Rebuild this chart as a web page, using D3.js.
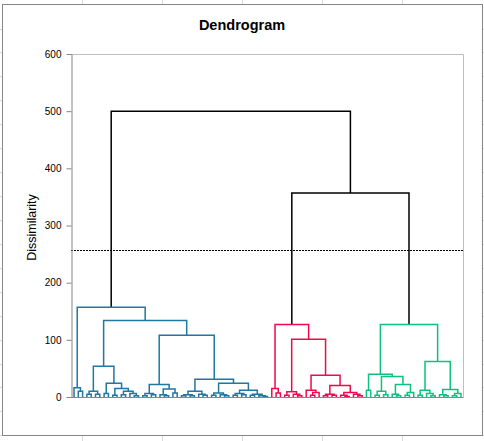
<!DOCTYPE html>
<html>
<head>
<meta charset="utf-8">
<script src="https://cdn.jsdelivr.net/npm/d3@7"></script>
<style>
  html, body { margin: 0; padding: 0; background: #ffffff; }
  svg { display: block; }
</style>
</head>
<body>
<svg id="chart" width="484" height="441"></svg>
<script>
// ---------------- DATA ----------------
// Each internal node: [dissimilarity, leftChild, rightChild]; a leaf is 0.
const title = "Dendrogram";
const yAxisTitle = "Dissimilarity";
const yTicks = [0, 100, 200, 300, 400, 500, 600];
const truncationLevel = 257;
const rootHeights = [500, 357];   // root node, then node joining clusters 2 and 3

const cluster1Tree = [157,
  [16, 0, [10, 0, 0]],
  [134,
    [54,
      [10, [5, 0, 0], [5, 0, 0]],
      [24,
        [6, 0, 0],
        [15, [3, 0, 0], [10, [4, 0, 0], [6, 0, [2, 0, 0]]]]
      ]
    ],
    [108,
      [22,
        [6, [2, 0, 0], [4, 0, 0]],
        [14, [4, 0, [2, 0, 0]], [7, 0, 0]]
      ],
      [31,
        [10, [4, [2, 0, 0], [2, 0, 0]], [5, 0, [3, 0, 0]]],
        [24,
          [7, [3, 0, 0], [4, 0, [2, 0, 0]]],
          [12, [6, [3, 0, 0], [4, 0, 0]], [5, [3, 0, 0], [2, 0, [1, 0, 0]]]]
        ]
      ]
    ]
  ]
];

const cluster2Tree = [127,
  [15, 0, [7, 0, 0]],
  [101,
    [9, [3, 0, 0], [5, 0, [2, 0, 0]]],
    [38,
      [12, 0, [8, [3, 0, 0], 0]],
      [20,
        [5, [2, 0, 0], [3, 0, 0]],
        [8, [3, 0, [1, 0, 0]], [5, 0, [2, 0, 0]]]
      ]
    ]
  ]
];

const cluster3Tree = [127,
  [40,
    [12, 0, 0],
    [36,
      [10, [3, 0, 0], [4, 0, 0]],
      [22, [5, 0, [2, 0, 0]], [8, [3, 0, 0], 0]]
    ]
  ],
  [62,
    [12, [3, 0, 0], [6, 0, [2, 0, 0]]],
    [13, [4, 0, [2, 0, 0]], [6, [2, 0, 0], 0]]
  ]
];

const clusterColors = ["#1f77a3", "#ee0a4c", "#0cc27e"];

// ---------------- DRAW ----------------
const W = 484, H = 441;
const svg = d3.select("#chart");

// spreadsheet grid behind the chart object
const gridColor = "#d9d9d9";
const colXs = [82, 162, 242, 322, 402];
const rowYs = d3.range(0, 19).map(i => 28.5 + i * 23.93);
svg.append("g").selectAll("line.c").data(colXs).join("line")
  .attr("x1", d => d + 0.5).attr("x2", d => d + 0.5).attr("y1", 0).attr("y2", H)
  .attr("stroke", gridColor);
svg.append("g").selectAll("line.r").data(rowYs).join("line")
  .attr("x1", 0).attr("x2", W).attr("y1", d => Math.round(d) + 0.5).attr("y2", d => Math.round(d) + 0.5)
  .attr("stroke", gridColor);

// chart area
svg.append("rect").attr("x", 2.5).attr("y", 4.5).attr("width", 480).attr("height", 431)
  .attr("fill", "#ffffff").attr("stroke", "#868686").attr("stroke-width", 1);

const plot = { left: 71, right: 463, top: 54, bottom: 397 };
const y = d3.scaleLinear().domain([0, 600]).range([plot.bottom, plot.top]);

// build hierarchy
const rootData = [rootHeights[0], cluster1Tree, [rootHeights[1], cluster2Tree, cluster3Tree]];
const root = d3.hierarchy(rootData, d => Array.isArray(d) ? d.slice(1) : null);
const leaves = root.leaves();
const x = d3.scaleLinear().domain([0, leaves.length - 1]).range([74, 461]);
leaves.forEach((l, i) => { l.px = x(i); l.h = 0; });
root.eachAfter(n => {
  if (n.children) {
    n.h = n.data[0];
    n.px = d3.mean(n.children, c => c.px);
  }
});
// cluster colouring
const clusterRoots = [root.children[0], root.children[1].children[0], root.children[1].children[1]];
root.each(n => { n.color = "#000000"; });
clusterRoots.forEach((c, i) => c.each(n => { n.color = clusterColors[i]; }));

// plot frame (top and right)
svg.append("path")
  .attr("d", `M${plot.left},${plot.top + 0.5}H${plot.right + 0.5}V${plot.bottom}`)
  .attr("fill", "none").attr("stroke", "#bfbfbf").attr("stroke-width", 1);

// truncation line
svg.append("line")
  .attr("x1", plot.left).attr("x2", plot.right)
  .attr("y1", Math.round(y(truncationLevel)) + 0.5).attr("y2", Math.round(y(truncationLevel)) + 0.5)
  .attr("stroke", "#000000").attr("stroke-width", 1).attr("stroke-dasharray", "2,1");

// links
const internal = root.descendants().filter(n => n.children);
svg.append("g").selectAll("path").data(internal).join("path")
  .attr("fill", "none")
  .attr("stroke", d => d.color)
  .attr("stroke-width", 1.5)
  .attr("d", d => {
    const [a, b] = d.children;
    return `M${a.px},${y(a.h)}V${y(d.h)}H${b.px}V${y(b.h)}`;
  });

// bottom axis line
svg.append("line").attr("x1", 68).attr("x2", plot.right + 0.5)
  .attr("y1", plot.bottom + 0.5).attr("y2", plot.bottom + 0.5)
  .attr("stroke", "#868686").attr("stroke-width", 1);

// y axis
const yAxis = svg.append("g").attr("transform", `translate(${plot.left + 0.5},0)`)
  .call(d3.axisLeft(y).tickValues(yTicks).tickSize(5).tickPadding(5).tickSizeOuter(0));
yAxis.select(".domain").attr("stroke", "#868686");
yAxis.selectAll(".tick line").attr("stroke", "#868686");
yAxis.selectAll(".tick text")
  .attr("fill", "#000000")
  .style("font-family", "'Liberation Sans', Arial, sans-serif")
  .style("font-size", "10px");

// axis title
svg.append("text")
  .attr("transform", `translate(36,${(plot.top + plot.bottom) / 2 + 2}) rotate(-90)`)
  .attr("text-anchor", "middle")
  .style("font-family", "'Liberation Sans', Arial, sans-serif")
  .style("font-size", "12.5px")
  .attr("fill", "#000000")
  .text(yAxisTitle);

// title
svg.append("text")
  .attr("x", 242).attr("y", 30)
  .attr("text-anchor", "middle")
  .style("font-family", "'Liberation Sans', Arial, sans-serif")
  .style("font-size", "14.5px")
  .style("font-weight", "bold")
  .attr("fill", "#000000")
  .text(title);
</script>
</body>
</html>
